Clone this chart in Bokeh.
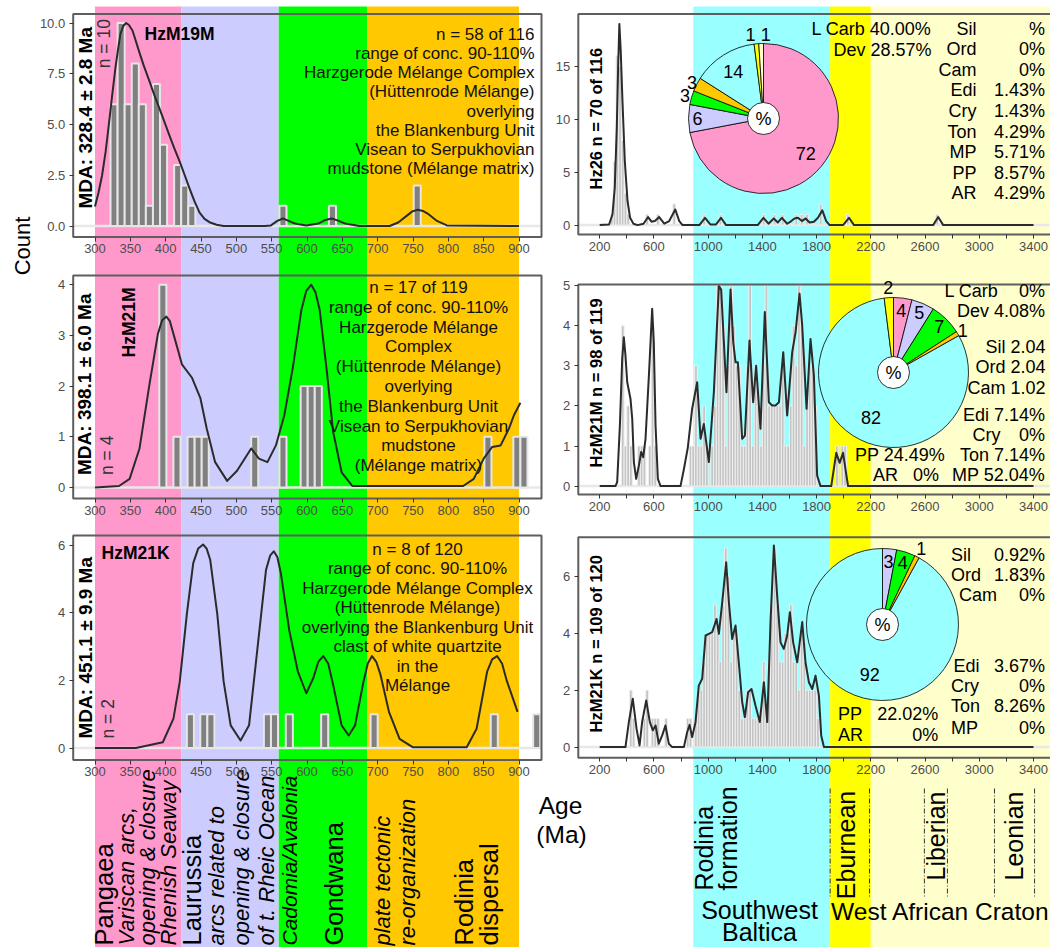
import math
from bokeh.plotting import figure
from bokeh.models import Range1d, LinearAxis, FixedTicker, NumeralTickFormatter
from bokeh.core.properties import value
from bokeh.embed import file_html
from bokeh.resources import INLINE

FONT = "Liberation Sans"

# ======================= DATA =======================
left_band_edges = [300, 422, 560, 685, 900]
left_band_colors = ["#FF99CC", "#CCCCFF", "#00FF00", "#FFC800"]
right_band_edges = [890, 1900, 2200, 3800]
right_band_colors = ["#99FFFF", "#FFFF00", "#FFFFCC"]
orogeny_bounds = [1900, 2190, 2595, 2765, 3112, 3408]

left_x_ticks = [300, 350, 400, 450, 500, 550, 600, 650, 700, 750, 800, 850, 900]
right_x_labeled = [200, 600, 1000, 1400, 1800, 2200, 2600, 3000, 3400]
right_x_minor = [400, 800, 1200, 1600, 2000, 2400, 2800, 3200]

tl_y_ticks = [0, 2.5, 5, 7.5, 10]
ml_y_ticks = [0, 1, 2, 3, 4]
bl_y_ticks = [0, 2, 4, 6]
tr_y_ticks = [0, 5, 10, 15]
mr_y_ticks = [0, 1, 2, 3, 4, 5]
br_y_ticks = [0, 2, 4, 6]

# --- HzM19M (top left)
tl_bins = [327, 337, 347, 357, 367, 377, 387, 397, 407, 417, 427, 437, 566, 636, 756]
tl_counts = [6, 10, 6, 8, 6, 1, 7, 4, 0, 3, 2, 1, 1, 1, 2]
tl_kde_x = [300, 305, 310, 315, 319, 324, 329, 333, 336, 340, 344, 348, 353, 357, 362, 369,
            377, 384, 391, 398, 405, 412, 420, 427, 434, 441, 448, 455, 463, 472, 482,
            540, 549, 558, 566, 574, 583, 599, 616, 626, 635, 645, 654, 674, 717, 729, 741,
            749, 757, 764, 772, 784, 798, 900]
tl_kde_y = [0.96, 1.65, 2.49, 3.65, 4.82, 6.35, 7.81, 8.8, 9.47, 9.85, 10.0, 9.9, 9.63, 9.2,
            8.64, 7.9, 7.14, 6.45, 5.81, 5.15, 4.49, 3.85, 3.16, 2.5, 1.83, 1.2, 0.66, 0.35,
            0.17, 0.06, 0.0,
            0.0, 0.03, 0.25, 0.37, 0.25, 0.12, 0.03, 0.12, 0.3, 0.37, 0.25, 0.12,
            0.0, 0.0, 0.17, 0.5, 0.72, 0.8, 0.74, 0.58, 0.25, 0.03, 0.0]

# --- HzM21M (middle left)
ml_bins = [396, 416, 436, 446, 456, 526, 566, 596, 606, 616, 856, 897, 907]
ml_counts = [4, 1, 1, 1, 1, 1, 1, 2, 2, 2, 1, 1, 1]
ml_kde_x = [300, 334, 349, 363, 377, 389, 395, 401, 406, 411, 423, 437, 449, 458, 470, 487,
            501, 521, 532, 544, 556, 568, 580, 592, 599, 606, 612, 618, 628, 637, 649, 664,
            821, 836, 850, 862, 874, 886, 893, 902]
ml_kde_y = [0, 0.03, 0.17, 0.77, 2.03, 3.03, 3.3, 3.37, 3.28, 3.03, 2.43, 2.17, 1.77, 1.17,
            0.5, 0.13, 0.33, 0.77, 0.57, 0.5, 0.83, 1.43, 2.37, 3.5, 3.88, 4.0, 3.85, 3.5, 2.3,
            1.1, 0.3, 0.03, 0.03, 0.17, 0.57, 0.8, 0.83, 1.17, 1.43, 1.67]

# --- HzM21K (bottom left)
bl_bins = [435, 454, 464, 544, 554, 575, 625, 695, 865, 925]
bl_counts = [1, 1, 1, 1, 1, 1, 1, 1, 1, 1]
bl_kde_x = [300, 358, 396, 411, 420, 430, 439, 446, 453, 458, 463, 473, 482, 492, 506, 518,
            530, 542, 548, 553, 558, 563, 575, 587, 599, 609, 616, 623, 630, 637, 649, 659,
            668, 680, 686, 692, 698, 704, 716, 731, 750, 826, 840, 855, 862, 869, 876, 883,
            898]
bl_kde_y = [0, 0, 0.17, 0.87, 1.97, 3.97, 5.47, 5.9, 6.02, 5.9, 5.57, 3.97, 1.97, 0.67, 0.22,
            0.67, 2.97, 5.27, 5.7, 5.82, 5.65, 5.17, 3.47, 2.27, 1.62, 2.07, 2.55, 2.72, 2.5,
            1.87, 0.67, 0.37, 0.67, 1.97, 2.5, 2.72, 2.55, 2.17, 1.07, 0.27, 0.02, 0.02, 0.57,
            2.27, 2.62, 2.72, 2.5, 1.97, 1.07]

# --- Hz26 (top right)
tr_bins = [290, 310, 330, 350, 370, 390, 410, 550, 630, 750, 970, 1090, 1410, 1490, 1550,
           1650, 1690, 1730, 1830, 2030, 2690]
tr_counts = [1, 6, 16, 15, 8, 3, 1, 1, 1, 2, 1, 1, 1, 1, 1, 1, 1, 1, 2, 1, 1]
tr_kde_x = [200, 269, 294, 311, 326, 336, 345, 355, 368, 385, 405, 424, 449, 479, 523, 557,
            582, 607, 639, 676, 713, 757, 787, 811, 935, 977, 1016, 1058, 1095, 1132, 1366,
            1408, 1445, 1484, 1514, 1544, 1583, 1613, 1637, 1662, 1692, 1719, 1748, 1780,
            1810, 1842, 1871, 1896, 1995, 2039, 2076, 2660, 2697, 2734, 3400]
tr_kde_y = [0, 0.06, 1.0, 3.5, 9.2, 14.9, 19.0, 16.5, 11.7, 6.1, 2.3, 0.7, 0.13, 0, 0.13,
            0.76, 0.32, 0.38, 0.76, 0.13, 0.38, 1.48, 0.38, 0, 0, 0.69, 0.06, 0.06, 0.69, 0,
            0, 0.69, 0.13, 0.63, 0.25, 0.69, 0.13, 0.38, 0.63, 0.69, 0.38, 0.63, 0.25, 0.32,
            0.69, 1.39, 0.38, 0, 0, 0.69, 0, 0, 0.76, 0, 0]

# --- HzM21M (middle right)
mr_bins = [370, 390, 410, 430, 490, 510, 530, 570, 590, 610,
           870, 890, 910, 930, 950, 970, 990,
           1030, 1050, 1070, 1090, 1110, 1130, 1150, 1170, 1190, 1210,
           1230, 1250, 1270, 1290, 1310, 1330, 1350, 1370, 1390, 1410,
           1430, 1450, 1470, 1490, 1510, 1530, 1550, 1570, 1590, 1610,
           1630, 1650, 1670, 1690, 1710, 1730, 1750, 1770, 1790,
           1950, 1990, 2010]
mr_counts = [4, 1, 2, 1, 1, 1, 1, 1, 4, 1,
             1, 1, 3, 1, 1, 2, 1,
             1, 2, 5, 5, 4, 1, 3, 5, 4, 3,
             3, 1, 1, 3, 5, 1, 3, 2, 1, 3,
             5, 2, 2, 2, 2, 2, 3, 1, 1, 2,
             4, 3, 5, 4, 1, 2, 3, 3, 2,
             1, 1, 1]
mr_kde_x = [200, 316, 329, 349, 366, 378, 390, 403, 427, 440, 452, 469, 489, 506, 521, 538,
            563, 587, 599, 612, 629, 649, 796, 821, 850, 882, 919, 944, 968, 1005, 1042, 1079,
            1096, 1135, 1165, 1185, 1202, 1219, 1251, 1271, 1305, 1332, 1354, 1386, 1418,
            1448, 1472, 1497, 1522, 1554, 1583, 1620, 1645, 1674, 1694, 1726, 1755, 1780,
            1804, 1829, 1908, 1945, 1970, 1995, 2032, 3400]
mr_kde_y = [0, 0, 0.1, 1.52, 3.17, 3.71, 3.26, 2.59, 2.18, 1.68, 0.6, 0.18, 0.51, 0.85, 0.72,
            1.18, 2.76, 4.42, 3.59, 1.52, 0.18, 0, 0, 0.42, 0.96, 1.93, 2.59, 1.18, 1.55, 0.6,
            2.34, 4.99, 4.9, 2.34, 4.9, 3.59, 3.09, 3.09, 1.18, 1.26, 3.63, 2.09, 3.0, 1.43,
            4.34, 2.09, 2.01, 2.01, 2.09, 3.34, 1.76, 3.34, 3.84, 4.8, 4.0, 1.93, 3.67, 2.76,
            0.26, 0, 0, 0.83, 0.58, 0.83, 0, 0]

# --- HzM21K (bottom right)
br_bins = [430, 450, 530, 550, 590, 610, 630, 690, 850, 870,
           910, 930, 950, 970, 990, 1010, 1030, 1050, 1070, 1090,
           1110, 1130, 1150, 1170, 1190, 1210, 1230, 1250, 1270, 1290,
           1310, 1330, 1350, 1370, 1390, 1410, 1430, 1450, 1470, 1490,
           1510, 1530, 1550, 1570, 1590, 1610, 1630, 1650, 1670, 1690,
           1710, 1730, 1750, 1770, 1790, 1810]
br_counts = [2, 1, 1, 2, 1, 1, 1, 1, 1, 1,
             1, 2, 2, 3, 4, 4, 4, 5, 4, 3,
             5, 7, 6, 3, 4, 4, 2, 1, 1, 2,
             2, 1, 1, 1, 1, 3, 1, 3, 5, 7,
             5, 3, 3, 4, 4, 5, 3, 3, 2, 4,
             3, 2, 2, 2, 2, 1]
br_kde_x = [200, 390, 415, 444, 472, 494, 513, 543, 570, 592, 612, 636, 661, 685, 710, 735,
            821, 845, 863, 882, 907, 931, 956, 981, 1005, 1030, 1062, 1079, 1104, 1133, 1153,
            1177, 1202, 1226, 1251, 1271, 1295, 1320, 1349, 1381, 1411, 1436, 1460, 1485,
            1509, 1534, 1558, 1583, 1603, 1627, 1657, 1694, 1718, 1743, 1768, 1792, 1817,
            1834, 1854, 3400]
br_kde_y = [0, 0, 0.88, 1.7, 0.64, 0.06, 0.88, 1.64, 0.88, 0.59, 0.76, 0.12, 0.41, 0.76, 0.12,
            0, 0, 0.52, 0.78, 0.35, 0.88, 2.16, 2.4, 3.92, 3.98, 4.04, 4.5, 3.98, 5.09, 6.49,
            5.09, 3.8, 4.27, 2.98, 1.58, 1.05, 1.93, 2.04, 1.46, 0.88, 2.28, 0.88, 4.39, 7.08,
            5.32, 3.68, 3.45, 3.92, 4.74, 3.68, 2.98, 4.39, 2.98, 2.28, 2.04, 2.51, 1.81, 0.41,
            0, 0]

# --- pies
tr_pie_values = [72, 6, 3, 3, 14, 1, 1]
tr_pie_colors = ["#FF99CC", "#CCCCFF", "#00FF00", "#FFC800", "#99FFFF", "#FFFF00", "#FFFFCC"]
mr_pie_values = [4, 5, 7, 1, 82, 2]
mr_pie_colors = ["#FF99CC", "#CCCCFF", "#00FF00", "#FFC800", "#99FFFF", "#FFFF00"]
br_pie_values = [3, 4, 1, 92]
br_pie_colors = ["#CCCCFF", "#00FF00", "#FFC800", "#99FFFF"]

# --- period tables
tr_tab_names = ["L Carb", "Dev", "Sil", "Ord", "Cam", "Edi", "Cry", "Ton", "MP", "PP", "AR"]
tr_tab_values = ["40.00%", "28.57%", "%", "0%", "0%", "1.43%", "1.43%", "4.29%", "5.71%", "8.57%", "4.29%"]
mr_tab_names = ["L Carb", "Dev", "Sil", "Ord", "Cam", "Edi", "Cry", "Ton", "MP", "PP", "AR"]
mr_tab_values = ["0%", "4.08%", "2.04", "2.04", "1.02", "7.14%", "0%", "7.14%", "52.04%", "24.49%", "0%"]
br_tab_names = ["Sil", "Ord", "Cam", "Edi", "Cry", "Ton", "MP", "PP", "AR"]
br_tab_values = ["0.92%", "1.83%", "0%", "3.67%", "0%", "8.26%", "0%", "22.02%", "0%"]

# --- texts
tl_note = ["n = 58 of 116", "range of conc. 90-110%", "Harzgerode Mélange Complex",
           "(Hüttenrode Mélange)", "overlying", "the Blankenburg Unit",
           "Visean to Serpukhovian", "mudstone (Mélange matrix)"]
ml_note = ["n = 17 of 119", "range of conc. 90-110%", "Harzgerode Mélange", "Complex",
           "(Hüttenrode Mélange)", "overlying", "the Blankenburg Unit",
           "Visean to Serpukhovian", "mudstone", "(Mélange matrix)"]
bl_note = ["n = 8 of 120", "range of conc. 90-110%", "Harzgerode Mélange Complex",
           "(Hüttenrode Mélange)", "overlying the Blankenburg Unit", "clast of white quartzite",
           "in the", "Mélange"]
sample_names = ["HzM19M", "HzM21M", "HzM21K"]
mda_labels = ["MDA: 328.4 ± 2.8 Ma", "MDA: 398.1 ± 6.0 Ma", "MDA: 451.1 ± 9.9 Ma"]
mda_n = ["n = 10", "n = 4", "n = 2"]
right_titles = ["Hz26 n = 70 of 116", "HzM21M n = 98 of 119", "HzM21K n = 109 of 120"]
left_band_labels = ["Pangaea", "Variscan arcs,", "opening & closure", "Rhenish Seaway",
                    "Laurussia", "arcs related to", "opening & closure", "of t. Rheic Ocean",
                    "Cadomia/Avalonia", "Gondwana", "plate tectonic", "re-organization",
                    "Rodinia", "dispersal"]
right_band_labels = ["Rodinia", "formation", "Eburnean", "Liberian", "Leonian"]

# ======================= LAYOUT / STYLE =======================
FL, FT = 0.0, 0.0
W, H = 1050, 947
FR, FB = FL + W, FT + H


def lin_map(v0, p0, v1, p1):
    s = (v1 - v0) / (p1 - p0)
    return lambda px: v0 + (px - p0) * s


lx = lin_map(300, 94.5, 900, 518.5)
rx = lin_map(200, 599.2, 3400, 1033.0)

PANELS = {
    "TL": dict(zero=225.5, ppc=20.3, top=13.5, bottom=236.5, left=72.7, right=541.0, col="L"),
    "ML": dict(zero=487.0, ppc=50.7, top=275.0, bottom=498.0, left=72.7, right=541.0, col="L"),
    "BL": dict(zero=747.5, ppc=33.8, top=535.0, bottom=759.5, left=72.7, right=541.0, col="L"),
    "TR": dict(zero=224.6, ppc=10.59, top=13.4, bottom=234.0, left=577.8, right=1070.0, col="R"),
    "MR": dict(zero=485.6, ppc=40.1, top=284.0, bottom=494.0, left=577.8, right=1070.0, col="R"),
    "BR": dict(zero=746.6, ppc=28.47, top=536.7, bottom=757.3, left=577.8, right=1070.0, col="R"),
}

p = figure(width=W, height=H, x_range=Range1d(lx(FL), lx(FR)), y_range=Range1d(-FB, -FT),
           x_axis_location=None, y_axis_location=None, toolbar_location=None,
           output_backend="svg", min_border=0, outline_line_color=None)
p.extra_x_ranges = {"R": Range1d(rx(FL), rx(FR)), "PX": Range1d(FL, FR)}
p.extra_y_ranges = {k: Range1d((d["zero"] - FB) / d["ppc"], (d["zero"] - FT) / d["ppc"])
                    for k, d in PANELS.items()}
p.xgrid.visible = False
p.ygrid.visible = False
p.background_fill_color = "white"
p.border_fill_color = "white"


def txt(xs, ys, texts, size, align="left", baseline="middle", angle=0.0, style="normal",
        color="#000000"):
    p.text(x=xs, y=[-y for y in ys], text=texts, text_font=value(FONT),
           text_font_size=size, text_align=align, text_baseline=baseline, angle=angle,
           text_font_style=style, text_color=color, x_range_name="PX")


# ---- background bands
p.quad(left=left_band_edges[:-1], right=left_band_edges[1:], bottom=-960, top=-6,
       fill_color=left_band_colors, line_color=None)
p.quad(left=right_band_edges[:-1], right=right_band_edges[1:], bottom=-960, top=-6,
       fill_color=right_band_colors, line_color=None, x_range_name="R")

# ---- baselines at zero
for k, d in PANELS.items():
    p.segment(x0=[d["left"] + 1], x1=[min(d["right"], FR) - 1], y0=[-d["zero"]], y1=[-d["zero"]],
              line_color="#E8E8E8", line_width=2.5, x_range_name="PX")

# ---- histograms
for name, bins, counts in [("TL", tl_bins, tl_counts), ("ML", ml_bins, ml_counts),
                           ("BL", bl_bins, bl_counts)]:
    p.vbar(x=bins, width=10, top=counts, bottom=0, fill_color="#808080",
           line_color="#E6E6E6", line_width=2, y_range_name=name)
for name, bins, counts in [("TR", tr_bins, tr_counts), ("MR", mr_bins, mr_counts),
                           ("BR", br_bins, br_counts)]:
    p.vbar(x=bins, width=20, top=counts, bottom=0, fill_color="#C4C4C4",
           line_color="#EFEFEF", line_width=1, y_range_name=name, x_range_name="R")

# ---- density curves
for name, xs, ys, xr in [("TL", tl_kde_x, tl_kde_y, "default"), ("ML", ml_kde_x, ml_kde_y, "default"),
                         ("BL", bl_kde_x, bl_kde_y, "default"), ("TR", tr_kde_x, tr_kde_y, "R"),
                         ("MR", mr_kde_x, mr_kde_y, "R"), ("BR", br_kde_x, br_kde_y, "R")]:
    p.line(xs, ys, line_color="#2B2B2B", line_width=2, y_range_name=name, x_range_name=xr,
           line_join="round")

# ---- panel boxes
for k, d in PANELS.items():
    p.quad(left=[d["left"]], right=[d["right"]], top=[-d["top"]], bottom=[-d["bottom"]],
           fill_color=None, line_color="#5E5E5E", line_width=2, x_range_name="PX")


# ---- axes
def style_axis(ax):
    ax.axis_line_color = None
    ax.major_tick_line_color = "#333333"
    ax.major_tick_in = 0
    ax.major_tick_out = 4
    ax.minor_tick_line_color = "#333333"
    ax.minor_tick_in = 0
    ax.minor_tick_out = 4
    ax.major_label_text_font = FONT
    ax.major_label_text_font_size = "13px"
    ax.major_label_text_color = "#4D4D4D"
    ax.major_label_standoff = 3


yticks = {"TL": tl_y_ticks, "ML": ml_y_ticks, "BL": bl_y_ticks,
          "TR": tr_y_ticks, "MR": mr_y_ticks, "BR": br_y_ticks}
for k, d in PANELS.items():
    xr = "default" if d["col"] == "L" else "R"
    fx = lx if d["col"] == "L" else rx
    if d["col"] == "L":
        tk = FixedTicker(ticks=left_x_ticks, minor_ticks=[])
    else:
        tk = FixedTicker(ticks=right_x_labeled, minor_ticks=right_x_minor)
    xa = LinearAxis(x_range_name=xr, y_range_name=k, ticker=tk,
                    fixed_location=(d["zero"] - d["bottom"]) / d["ppc"])
    style_axis(xa)
    p.add_layout(xa, "below")
    ya = LinearAxis(x_range_name=xr, y_range_name=k,
                    ticker=FixedTicker(ticks=yticks[k], minor_ticks=[]),
                    fixed_location=fx(d["left"]))
    if k == "TL":
        ya.formatter = NumeralTickFormatter(format="0.0")
    style_axis(ya)
    ya.major_label_standoff = 4
    p.add_layout(ya, "left")

# ---- notes in left panels
txt([534] * len(tl_note), [33.8 + i * 19.2 for i in range(len(tl_note))], tl_note, "17px",
    align="right", color="#111111")
txt([418] * len(ml_note), [287 + i * 19.8 for i in range(len(ml_note))], ml_note, "17px",
    align="center", color="#111111")
txt([417] * len(bl_note), [548.6 + i * 19.5 for i in range(len(bl_note))], bl_note, "17px",
    align="center", color="#111111")

# sample names
txt([144], [33.8], [sample_names[0]], "17.5px", style="bold")
txt([128], [287], [sample_names[1]], "17.5px", align="right", angle=math.pi / 2, style="bold")
txt([101], [552], [sample_names[2]], "17.5px", style="bold")

# MDA labels
txt([84.5, 84, 84.5], [208, 474.5, 738], mda_labels, "19px", align="left",
    angle=math.pi / 2, style="bold")
txt([103], [18.6], [mda_n[0]], "17.5px", align="right", angle=math.pi / 2, color="#333333")
txt([106.5, 107.5], [474.5, 738], mda_n[1:], "17.5px", align="left", angle=math.pi / 2,
    color="#333333")

# right panel titles
txt([595, 595, 595], [189, 467, 732], right_titles, "16.5px", align="left",
    angle=math.pi / 2, style="bold")


# ---- pies
def pie(cx, cy, r, vals, colors, label_r, aligns):
    tot = float(sum(vals))
    cum = 0.0
    starts, ends = [], []
    for v in vals:
        starts.append(math.pi / 2 - 2 * math.pi * cum / tot)
        ends.append(math.pi / 2 - 2 * math.pi * (cum + v) / tot)
        cum += v
    n = len(vals)
    p.wedge(x=[cx] * n, y=[-cy] * n, radius=r, radius_units="screen", start_angle=starts,
            end_angle=ends, direction="clock", fill_color=colors, line_color="black",
            line_width=0.8, x_range_name="PX")
    p.circle(x=[cx], y=[-cy], radius=16, radius_units="screen", fill_color="white",
             line_color="black", line_width=0.8, x_range_name="PX")
    txt([cx], [cy], ["%"], "18px", align="center")
    for i, v in enumerate(vals):
        mid = (starts[i] + ends[i]) / 2
        f = label_r[i]
        X = cx + f * r * math.cos(mid)
        Y = cy - f * r * math.sin(mid)
        txt([X], [Y], [str(v)], "18px", align=aligns[i])


pie(763, 118, 75, tr_pie_values, tr_pie_colors, [0.73, 0.88, 1.09, 1.07, 0.75, 1.12, 1.12],
    ["center"] * 5 + ["right", "left"])
pie(893, 372, 75, mr_pie_values, mr_pie_colors, [0.83, 0.87, 0.87, 1.08, 0.67, 1.13],
    ["center"] * 6)
pie(882, 624, 76, br_pie_values, br_pie_colors, [0.83, 0.86, 1.12, 0.68], ["center"] * 4)

# ---- period tables
TS = "18px"
txt([931, 931], [28, 49], [f"{n} {v}" for n, v in zip(tr_tab_names[:2], tr_tab_values[:2])],
    TS, align="right")
txt([976] * 9, [28 + i * 20.6 for i in range(9)], tr_tab_names[2:], TS, align="right")
txt([1044.5] * 9, [28 + i * 20.6 for i in range(9)], tr_tab_values[2:], TS, align="right")

mr_join = [False, True, True, True, True, True, False, True, True, True, False]
mr_name_x = [998, None, None, None, None, None, 1000, None, None, None, 897.6]
mr_val_x = [1044.5, 1044.5, 1045, 1045, 1045, 1044.5, 1044.5, 1044.5, 1044.5, 944.5, 938.4]
mr_y = [290, 310, 346, 366.5, 387, 414, 434, 454, 474.5, 454, 474.5]
for i in range(len(mr_tab_names)):
    if mr_join[i]:
        txt([mr_val_x[i]], [mr_y[i]], [mr_tab_names[i] + " " + mr_tab_values[i]], TS, align="right")
    else:
        txt([mr_name_x[i]], [mr_y[i]], [mr_tab_names[i]], TS, align="right")
        txt([mr_val_x[i]], [mr_y[i]], [mr_tab_values[i]], TS, align="right")

br_name_x = [950.5, 950.5, 958.5, 953, 950.5, 950.5, 950.5, 837.5, 837.5]
br_val_x = [1044.5] * 7 + [937.7, 937.7]
br_y = [554, 574, 594, 665, 685, 705.5, 727, 713.8, 734.5]
txt(br_name_x, br_y, br_tab_names, TS, align="left")
txt(br_val_x, br_y, br_tab_values, TS, align="right")

# ---- orogeny dashed markers
p.segment(x0=orogeny_bounds, x1=orogeny_bounds, y0=[-788] * 6, y1=[-898] * 6,
          line_color="#333333", line_width=1, line_dash="5 2 1 2", x_range_name="R")

# ---- band labels (bottom)
lb_x = [103, 125.8, 147, 168, 191, 215.7, 241, 266, 289, 333, 382, 407, 463, 488.5]
lb_style = ["normal", "italic", "italic", "italic", "normal", "italic", "italic", "italic",
            "italic", "normal", "italic", "italic", "normal", "normal"]
lb_size = ["25.5px", "22px", "22px", "22px", "25.5px", "22px", "22px", "22px",
           "21px", "25.5px", "22px", "22px", "25.5px", "25.5px"]
for i, lab in enumerate(left_band_labels):
    txt([lb_x[i]], [945], [lab], lb_size[i], align="left", angle=math.pi / 2, style=lb_style[i])

rb_x = [703.8, 727, 845.8, 935, 1013]
rb_y = [890, 890, 898.7, 880, 880]
txt(rb_x, rb_y, right_band_labels, "25px", align="left", angle=math.pi / 2)
txt([759, 759], [909, 931], ["Southwest", "Baltica"], "25px", align="center")
txt([940], [911], ["West African Craton"], "24.5px", align="center")

# ---- axis titles
txt([22], [245.5], ["Count"], "22px", align="center", angle=math.pi / 2)
txt([560, 561], [805, 833.5], ["Age", "(Ma)"], "24.5px", align="center")

open("out.html", "w").write(file_html(p, INLINE))
